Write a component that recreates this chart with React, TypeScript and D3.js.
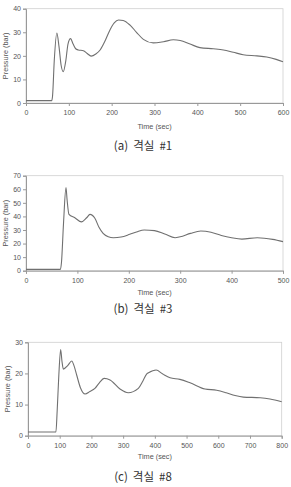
import React, { useRef, useEffect } from 'react';
import * as d3 from 'd3';

// Compartment #1
const time1 = [0, 60, 62, 66, 72, 77, 82, 87, 93, 98, 104, 110, 116, 122, 134, 143, 152, 163, 173, 185, 196, 206, 216, 227, 243, 258, 274, 297, 321, 344, 360, 383, 406, 437, 461, 484, 507, 539, 562, 584, 600];
const pressure1 = [1, 1, 3, 18, 29.7, 24, 16, 13.3, 18, 25, 27.3, 25, 23, 22.5, 22.2, 21, 19.9, 20.8, 22.5, 26.5, 31, 34, 35.2, 35, 33, 30, 27, 25.5, 26, 26.8, 26.5, 25, 23.5, 23, 22.5, 21.5, 20.5, 20, 19.5, 18.5, 17.5];

// Compartment #3
const time3 = [0, 67, 69, 73, 77.8, 80, 83.6, 95, 108, 118, 124.5, 134, 142, 150, 160, 170, 185, 202, 215, 230, 250, 270, 290, 300, 320, 340, 360, 380, 400, 420, 450, 480, 500];
const pressure3 = [1, 1, 6, 35, 61.2, 52, 41.5, 39, 36, 39, 41.5, 38.6, 32, 27.5, 25, 24.3, 24.8, 26.8, 28.5, 30, 29.5, 27, 24.3, 25, 27.5, 29.2, 28.3, 26, 24.3, 23.3, 24.3, 23.1, 21.4];

// Compartment #8
const time8 = [0, 88, 92, 97, 103, 107, 111.5, 125, 138, 145, 153.5, 165, 180, 195, 211, 225, 240, 258.7, 290, 316, 348, 362, 374, 380, 404, 425, 448, 479, 511, 558, 595, 625, 653, 679, 732, 763, 800];
const pressure8 = [1.2, 1.2, 8, 19, 27.7, 24, 21.4, 22.5, 24, 22.5, 19.5, 15.5, 13.4, 14.2, 15.2, 17, 18.4, 17.9, 15, 13.8, 15.2, 17.5, 19.8, 20.2, 21.1, 19.8, 18.6, 18.1, 17, 15, 14.6, 13.8, 12.9, 12.4, 12.2, 11.8, 10.9];

const xTicks1 = [0, 100, 200, 300, 400, 500, 600];
const yTicks1 = [0, 10, 20, 30, 40];
const xTicks3 = [0, 100, 200, 300, 400, 500];
const yTicks3 = [0, 10, 20, 30, 40, 50, 60, 70];
const xTicks8 = [0, 100, 200, 300, 400, 500, 600, 700, 800];
const yTicks8 = [0, 10, 20, 30];

const captions = ["(a) 격실 #1", "(b) 격실 #3", "(c) 격실 #8"];

const panels = [
  { time: time1, pressure: pressure1, xTicks: xTicks1, yTicks: yTicks1, caption: captions[0],
    left: 26, right: 283, top: 8.7, bottom: 103, tickY: 113, titleY: 126, captionY: 146, yLabelX: 5 },
  { time: time3, pressure: pressure3, xTicks: xTicks3, yTicks: yTicks3, caption: captions[1],
    left: 26, right: 283, top: 175.7, bottom: 270.7, tickY: 280.7, titleY: 292, captionY: 309, yLabelX: 5 },
  { time: time8, pressure: pressure8, xTicks: xTicks8, yTicks: yTicks8, caption: captions[2],
    left: 28, right: 281.7, top: 342.3, bottom: 435.7, tickY: 445.7, titleY: 456, captionY: 477, yLabelX: 7 },
];

const tickFont = "'Liberation Sans', 'DejaVu Sans', sans-serif";

export default function App() {
  const ref = useRef<SVGSVGElement>(null);

  useEffect(() => {
    const svg = d3.select(ref.current);
    svg.selectAll("*").remove();

    panels.forEach(p => {
      const x = d3.scaleLinear()
        .domain([0, d3.max(p.xTicks)])
        .range([p.left, p.right]);
      const y = d3.scaleLinear()
        .domain([0, d3.max(p.yTicks)])
        .range([p.bottom, p.top]);

      const g = svg.append("g");

      // plot frame (top/right light)
      g.append("rect")
        .attr("x", p.left)
        .attr("y", p.top)
        .attr("width", p.right - p.left)
        .attr("height", p.bottom - p.top)
        .attr("fill", "none")
        .attr("stroke", "#cfcfcf")
        .attr("stroke-width", 0.8);

      // Y axis
      const yAxis = g.append("g")
        .attr("transform", `translate(${p.left},0)`)
        .call(d3.axisLeft(y).tickValues(p.yTicks).tickSize(3).tickPadding(2));
      yAxis.select(".domain").attr("stroke", "#999");
      yAxis.selectAll(".tick line").attr("stroke", "#999");
      yAxis.selectAll("text")
        .attr("font-family", tickFont)
        .attr("font-size", 7)
        .attr("fill", "#555");

      // X axis
      const xAxis = g.append("g")
        .attr("transform", `translate(0,${p.bottom})`)
        .call(d3.axisBottom(x).tickValues(p.xTicks).tickSize(3).tickPadding(0));
      xAxis.select(".domain").attr("stroke", "#999");
      xAxis.selectAll(".tick line").attr("stroke", "#999");
      xAxis.selectAll("text")
        .attr("y", p.tickY - p.bottom)
        .attr("dy", "0.35em")
        .attr("font-family", tickFont)
        .attr("font-size", 7)
        .attr("fill", "#555");

      // pressure curve
      const line = d3.line<number>()
        .x((_, i) => x(p.time[i]))
        .y(d => y(d))
        .curve(d3.curveMonotoneX);

      g.append("path")
        .datum(p.pressure)
        .attr("d", line)
        .attr("fill", "none")
        .attr("stroke", "#707070")
        .attr("stroke-width", 1.1);

      // axis titles
      g.append("text")
        .attr("x", (p.left + p.right) / 2)
        .attr("y", p.titleY)
        .attr("dy", "0.35em")
        .attr("text-anchor", "middle")
        .attr("font-family", tickFont)
        .attr("font-size", 7.3)
        .attr("fill", "#555")
        .text("Time (sec)");

      g.append("text")
        .attr("transform", `translate(${p.yLabelX},${(p.top + p.bottom) / 2}) rotate(-90)`)
        .attr("dy", "0.35em")
        .attr("text-anchor", "middle")
        .attr("font-family", tickFont)
        .attr("font-size", 7.3)
        .attr("fill", "#555")
        .text("Pressure (bar)");

      // caption
      g.append("text")
        .attr("x", 143)
        .attr("y", p.captionY)
        .attr("dy", "0.35em")
        .attr("text-anchor", "middle")
        .attr("font-family", "'Noto Sans CJK KR', sans-serif")
        .attr("font-size", 11.5)
        .attr("word-spacing", 2.5)
        .attr("fill", "#333")
        .text(p.caption);
    });
  }, []);

  return (
    <svg ref={ref} width={291} height={487}
      style={{ position: "absolute", left: 0, top: 0, background: "#fff" }} />
  );
}
